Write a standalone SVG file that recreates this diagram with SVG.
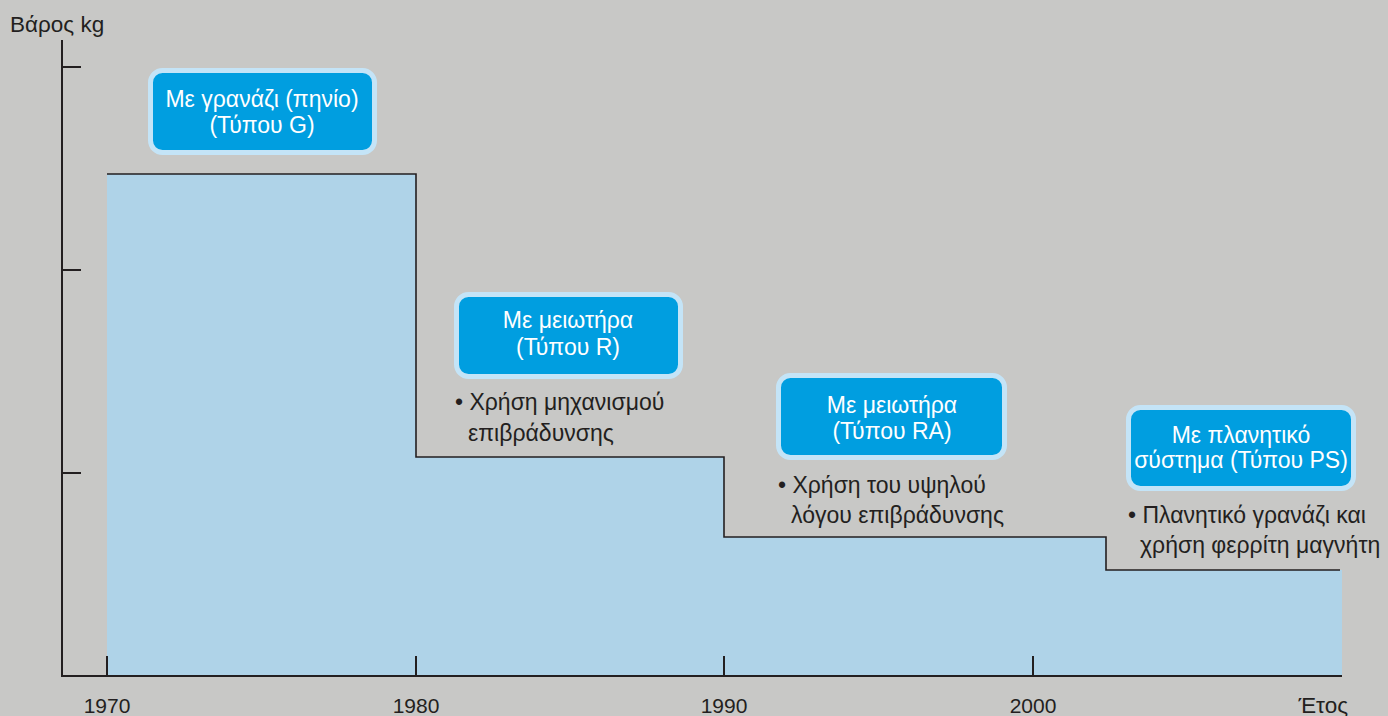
<svg xmlns="http://www.w3.org/2000/svg" width="1388" height="716" viewBox="0 0 1388 716">
<style>
.t{font-family:"Liberation Sans",Arial,sans-serif;font-size:23px;fill:#231f20}
.ax-t{font-family:"Liberation Sans",Arial,sans-serif;font-size:21px;fill:#231f20}
.bt{font-family:"Liberation Sans",Arial,sans-serif;font-size:23px;fill:#ffffff;text-anchor:middle}
.box{fill:#009ee0;stroke:#c4e4f7;stroke-width:5}
.ax{stroke:#231f20;stroke-width:2;fill:none}
.ln{stroke:#231f20;stroke-width:1.6;fill:none}
</style>
<rect width="1388" height="716" fill="#c8c8c6"/>
<g id="area">
<polygon points="107,174 416,174 416,457 724,457 724,537 1106,537 1106,570 1342,570 1342,676 107,676" fill="#afd3e8"/>
</g>
<g id="connectors">
<polyline class="ln" points="107,174 416,174 416,457 724,457 724,537 1106,537 1106,570 1340,570"/>
<polyline class="ax" points="62,40 62,676 1342,676"/>
<path class="ax" d="M62,67H81M62,270H81M62,473H81M107,656V676M416,656V676M724,656V676M1033,656V676"/>
</g>
<g id="axis-labels">
<text class="ax-t" x="10" y="32" style="font-size:22.5px">Βάρος kg</text>
<text class="ax-t" x="107" y="713" text-anchor="middle">1970</text>
<text class="ax-t" x="416" y="713" text-anchor="middle">1980</text>
<text class="ax-t" x="724" y="713" text-anchor="middle">1990</text>
<text class="ax-t" x="1033" y="713" text-anchor="middle">2000</text>
<text class="ax-t" x="1348" y="713" text-anchor="end" style="font-size:22.5px">Έτος</text>
</g>
<g id="node-g">
<rect class="box" x="150.5" y="70.5" width="224" height="82" rx="12"/>
<text class="bt" x="262" y="107">Με γρανάζι (πηνίο)</text>
<text class="bt" x="262" y="133">(Τύπου G)</text>
</g>
<g id="node-r">
<rect class="box" x="456.5" y="294.5" width="224" height="82" rx="12"/>
<text class="bt" x="568" y="328">Με μειωτήρα</text>
<text class="bt" x="568" y="355">(Τύπου R)</text>
<text class="t" x="455" y="410">• Χρήση μηχανισμού</text>
<text class="t" x="468" y="441">επιβράδυνσης</text>
</g>
<g id="node-ra">
<rect class="box" x="778.5" y="375.5" width="226" height="82" rx="12"/>
<text class="bt" x="892" y="413">Με μειωτήρα</text>
<text class="bt" x="892" y="439">(Τύπου RA)</text>
<text class="t" x="778" y="493">• Χρήση του υψηλού</text>
<text class="t" x="791" y="523">λόγου επιβράδυνσης</text>
</g>
<g id="node-ps">
<rect class="box" x="1128.5" y="407.5" width="225" height="81" rx="12"/>
<text class="bt" x="1241" y="443">Με πλανητικό</text>
<text class="bt" x="1241" y="468">σύστημα (Τύπου PS)</text>
<text class="t" x="1128" y="523">• Πλανητικό γρανάζι και</text>
<text class="t" x="1140" y="553">χρήση φερρίτη μαγνήτη</text>
</g>
</svg>
